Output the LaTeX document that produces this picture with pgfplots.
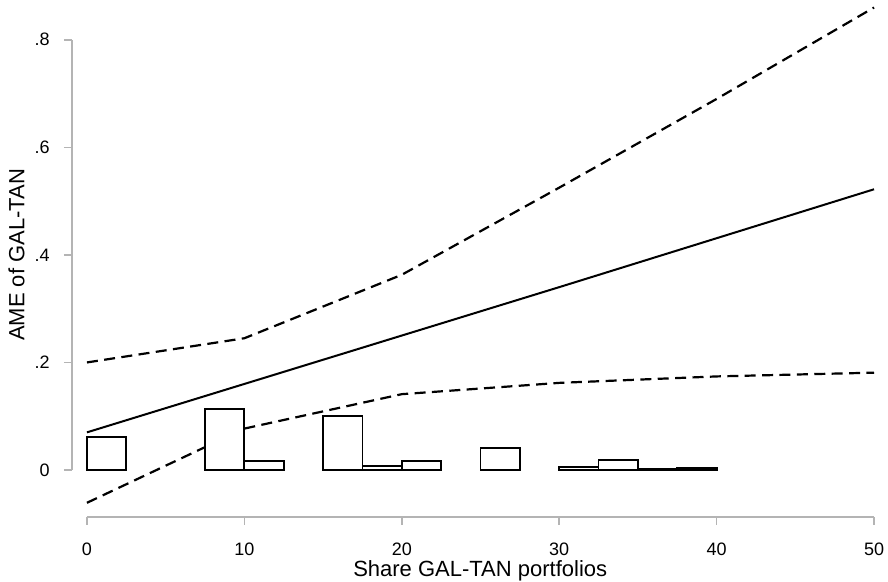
\documentclass[border=0pt]{standalone}
\usepackage{fontspec}
\setmainfont{Liberation Sans}
\usepackage{pgfplots}
\pgfplotsset{compat=1.18}
\definecolor{axgray}{HTML}{B4B4B4}

\begin{document}
\begin{tikzpicture}
\begin{axis}[
  name=ax, at={(0,0)}, anchor=south west,
  scale only axis, width=401pt, height=258.5pt,
  xmin=-0.95, xmax=50, ymin=-0.0874, ymax=0.874,
  axis x line*=bottom, axis y line*=left,
  axis line style={draw=none},
  clip=false,
  xtick={0,10,20,30,40,50},
  ytick={0,0.2,0.4,0.6,0.8},
  yticklabels={0,.2,.4,.6,.8},
  tick align=outside,
  major tick length=4pt,
  major tick style={axgray, line width=0.75pt},
  /pgf/number format/assume math mode=true,
  tick label style={font=\fontsize{9}{11}\selectfont},
  xticklabel style={anchor=base, inner sep=0pt, yshift=-15.5pt},
  yticklabel style={anchor=east, inner sep=0pt, xshift=-7pt},
  label style={font=\fontsize{11}{13}\selectfont},
  xlabel={Share GAL-TAN portfolios},
  ylabel={AME of GAL-TAN},
  xlabel style={at={(axis description cs:0.509,-0.116)}, anchor=base, inner sep=0pt},
  ylabel style={at={(axis description cs:-0.0692,0.507)}, anchor=center, inner sep=0pt},
]
% axis lines only over the tick range, as in Stata
\draw[axgray, line width=0.75pt] (axis cs:-0.95,0) -- (axis cs:-0.95,0.8);
\draw[axgray, line width=0.75pt] (axis cs:0,-0.0874) -- (axis cs:50,-0.0874);

% confidence bounds
\addplot[black, line width=1.1pt, dash pattern=on 5.5pt off 3.2pt] coordinates {
  (0,0.200) (10,0.245) (20,0.363) (30,0.525) (40,0.690) (50,0.860)};
\addplot[black, line width=1.1pt, dash pattern=on 5.5pt off 3.2pt] coordinates {
  (0,-0.061) (10,0.077) (20,0.141) (30,0.162) (40,0.174) (50,0.181)};
% AME
\addplot[black, line width=1pt] coordinates {
  (0,0.070) (10,0.160) (20,0.250) (30,0.340) (40,0.431) (50,0.522)};

% histogram of the moderator
\addplot[ybar, bar width=2.5, fill=white, draw=black, line width=0.9pt] coordinates {
  (1.25,0.062) (8.75,0.113) (11.25,0.016) (16.25,0.100) (18.75,0.008)
  (21.25,0.016) (26.25,0.0415) (31.25,0.0056) (33.75,0.019)
  (36.25,0.002) (38.75,0.003)};
\end{axis}
\pgfresetboundingbox
\path ([xshift=-36pt,yshift=-32.5pt]ax.south west) rectangle ([xshift=408pt,yshift=258.5pt]ax.south west);
\end{tikzpicture}
\end{document}
